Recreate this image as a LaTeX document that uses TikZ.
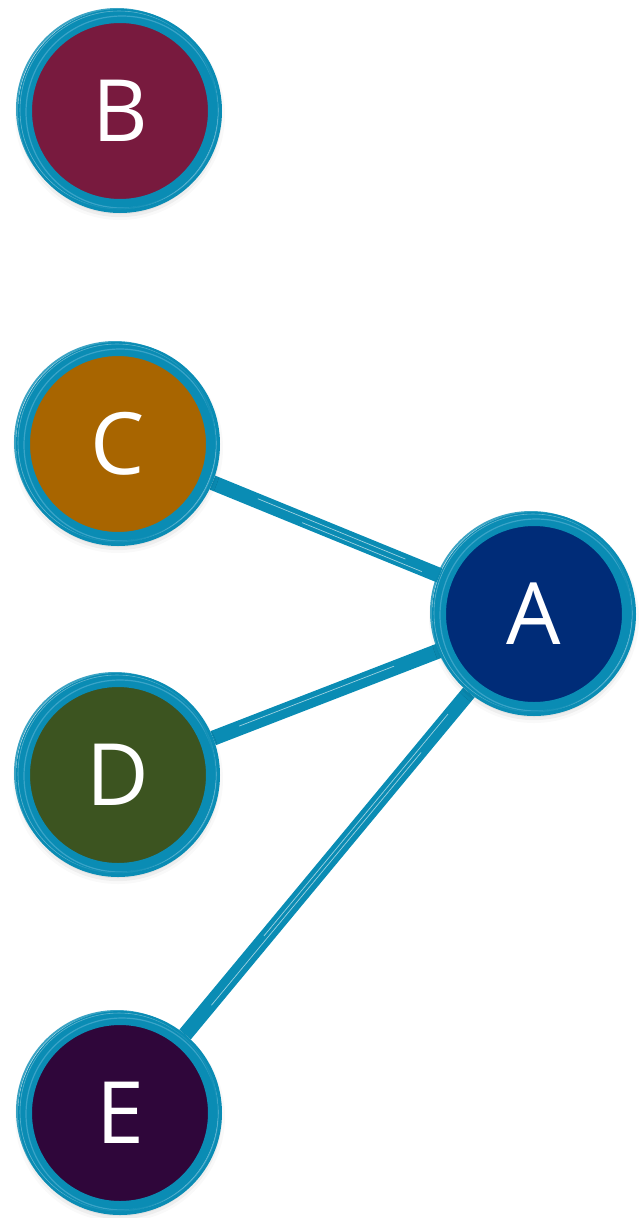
\documentclass[tikz,border=0pt]{standalone}
\usepackage{fontspec}
\setmainfont{Open Sans}
\usetikzlibrary{shadows.blur,backgrounds}
\definecolor{ring}{RGB}{10,140,180}
\definecolor{ringlight}{RGB}{70,170,205}
\definecolor{colB}{RGB}{120,26,62}
\definecolor{colA}{RGB}{0,44,120}
\definecolor{colC}{RGB}{168,101,0}
\definecolor{colD}{RGB}{60,84,32}
\definecolor{colE}{RGB}{47,6,58}
\tikzset{
  bubble/.style={circle, draw=ring, line width=14pt, minimum size=190pt, inner sep=0pt,
    blur shadow={shadow xshift=0pt, shadow yshift=-4pt, shadow blur radius=10pt, shadow opacity=35}},
  brushring/.style={draw=ringlight, line width=1.2pt, opacity=0.8},
  edge/.style={draw=ring, line width=15pt},
  edgestreak/.style={draw=white, line width=0.7pt, opacity=0.6},
  letter/.style={text=white, font=\fontsize{86}{86}\selectfont}
}
\begin{document}
\begin{tikzpicture}[x=1pt,y=-1pt]
\useasboundingbox (0,0) rectangle (642,1218);
\node[bubble, fill=colB] (B) at (120,111) {};
\node[bubble, fill=colC] (C) at (118,444) {};
\node[bubble, fill=colD] (D) at (118,775) {};
\node[bubble, fill=colE] (E) at (120,1113) {};
\node[bubble, fill=colA] (A) at (534,614) {};
% brush texture on rings
\foreach \n in {A,B,C,D,E}{
  \draw[brushring] ([xshift=2pt,yshift=-1pt]\n.center) circle (96pt);
  \draw[brushring, draw=white, opacity=0.35, line width=0.6pt] ([xshift=-1pt,yshift=1pt]\n.center) circle (99pt);
  \draw[brushring, draw=ring, line width=2pt] ([xshift=-3pt,yshift=2pt]\n.center) circle (100pt);
}
% letters
\foreach \n in {A,B,C,D,E}{
  \node[letter] (L\n) at (\n.center) {\n};
}
\begin{scope}[on background layer]
  \draw[edge] (C) -- (A);
  \draw[edge] (D) -- (A);
  \draw[edge] (E) -- (A);
  \draw[edgestreak, shorten >=140pt, shorten <=150pt] ([xshift=1pt,yshift=2pt]C.center) -- ([xshift=1pt,yshift=2pt]A.center);
  \draw[edgestreak, shorten >=120pt, shorten <=200pt] ([xshift=-1pt,yshift=-3pt]C.center) -- ([xshift=-1pt,yshift=-3pt]A.center);
  \draw[edgestreak, shorten >=150pt, shorten <=130pt] ([yshift=2pt]D.center) -- ([yshift=2pt]A.center);
  \draw[edgestreak, shorten >=180pt, shorten <=140pt] ([xshift=2pt]E.center) -- ([xshift=2pt]A.center);
  \draw[edgestreak, shorten >=130pt, shorten <=230pt] ([xshift=-3pt]E.center) -- ([xshift=-3pt]A.center);
\end{scope}
\end{tikzpicture}
\end{document}
